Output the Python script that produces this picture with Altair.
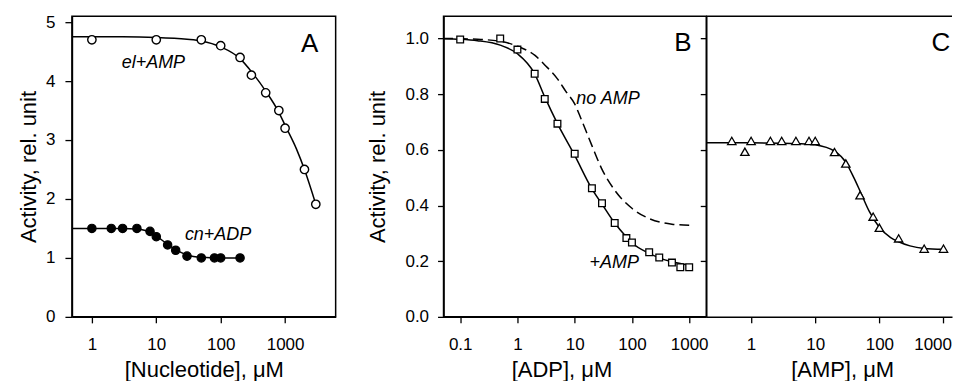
import altair as alt
import pandas as pd

FONT = "Liberation Sans"

# ---------------- Panel A data ----------------
a_el_x = [1, 10, 50, 100, 200, 300, 500, 800, 1000, 2000, 3000]
a_el_y = [4.70, 4.70, 4.70, 4.60, 4.40, 4.10, 3.80, 3.50, 3.20, 2.50, 1.91]
a_el_fit_x = [0.49, 1, 3, 10, 30, 50, 100, 200, 300, 500, 800, 1000, 1500, 2000, 3000]
a_el_fit_y = [4.75, 4.75, 4.75, 4.74, 4.71, 4.68, 4.58, 4.38, 4.16, 3.83, 3.47, 3.25, 2.85, 2.50, 1.91]

a_cn_x = [1, 2, 3, 5, 8, 10, 15, 20, 30, 50, 80, 100, 200]
a_cn_y = [1.50, 1.50, 1.50, 1.50, 1.45, 1.36, 1.22, 1.13, 1.03, 1.00, 1.00, 1.00, 1.00]
a_cn_fit_x = [0.49, 1, 3, 5, 7, 10, 15, 20, 30, 50, 100, 200]
a_cn_fit_y = [1.50, 1.50, 1.50, 1.49, 1.46, 1.37, 1.23, 1.14, 1.05, 1.01, 1.00, 1.00]

# ---------------- Panel B data ----------------
b_x = [0.1, 0.5, 1, 2, 3, 5, 10, 20, 30, 50, 80, 100, 200, 300, 500, 700, 1000]
b_y = [0.996, 1.0, 0.96, 0.873, 0.783, 0.694, 0.586, 0.462, 0.408, 0.337, 0.283,
       0.267, 0.232, 0.213, 0.195, 0.178, 0.178]
b_fit_x = [0.05, 0.1, 0.2, 0.5, 1, 2, 3, 5, 10, 20, 30, 50, 80, 100, 200, 300, 500, 1000]
b_fit_y = [0.999, 0.997, 0.992, 0.976, 0.945, 0.873, 0.79, 0.694, 0.58, 0.46, 0.405,
           0.337, 0.287, 0.266, 0.228, 0.212, 0.198, 0.186]
b_noamp_x = [0.05, 0.1, 0.2, 0.5, 1, 2, 3, 5, 7, 10, 13, 20, 30, 50, 100, 200, 500, 1000]
b_noamp_y = [1.0, 0.999, 0.997, 0.99, 0.972, 0.94, 0.905, 0.855, 0.81, 0.765, 0.71,
             0.615, 0.53, 0.455, 0.39, 0.353, 0.333, 0.329]

# ---------------- Panel C data ----------------
c_x = [0.5, 0.8, 1, 2, 3, 5, 8, 10, 20, 30, 50, 80, 100, 200, 500, 1000]
c_y = [0.632, 0.593, 0.632, 0.632, 0.632, 0.632, 0.632, 0.632, 0.592, 0.551,
       0.437, 0.360, 0.320, 0.282, 0.245, 0.245]
c_fit_x = [0.2, 1, 6, 10, 20, 30, 40, 50, 70, 100, 150, 200, 300, 500, 1000]
c_fit_y = [0.625, 0.625, 0.622, 0.618, 0.595, 0.555, 0.50, 0.452, 0.378, 0.322,
           0.285, 0.27, 0.255, 0.246, 0.243]

# ---------------- labels ----------------
a_lab_text = ["el+AMP", "cn+ADP"]
a_lab_x = [2.9, 27.8]
a_lab_y = [4.30, 1.39]
b_lab_text = ["no AMP", "+AMP"]
b_lab_x = [10.7, 18.1]
b_lab_y = [0.783, 0.195]
panel_text = ["A", "B", "C"]
panel_x = [2400, 773, 912]
panel_y = [4.62, 0.983, 0.983]

A_W, B_W, C_W, GAP, H = 264, 263, 246, 108, 301


def df(x, y):
    return pd.DataFrame({"x": x, "y": y})


# ================= Panel A =================
xA = alt.X("x:Q", scale=alt.Scale(type="log", domain=[0.49, 6100]),
           axis=alt.Axis(values=[1, 10, 100, 1000], labelExpr="datum.value + ''",
                         title="[Nucleotide], μM", labelPadding=14, titlePadding=6.5,
                         tickSize=6, labelFlush=False))
yA = alt.Y("y:Q", scale=alt.Scale(domain=[0, 5.1], nice=False),
           axis=alt.Axis(values=[0, 1, 2, 3, 4, 5], title="Activity, rel. unit",
                         labelPadding=10, titlePadding=5, tickSize=7))

a_el_line = alt.Chart(df(a_el_fit_x, a_el_fit_y)).mark_line(
    color="black", strokeWidth=1.5, interpolate="monotone").encode(x=xA, y=yA)
a_cn_line = alt.Chart(df(a_cn_fit_x, a_cn_fit_y)).mark_line(
    color="black", strokeWidth=1.5, interpolate="monotone").encode(x=xA, y=yA)
a_el_pts = alt.Chart(df(a_el_x, a_el_y)).mark_point(
    shape="circle", filled=True, fill="white", stroke="black", strokeWidth=1.4,
    size=70, opacity=1).encode(x=xA, y=yA)
a_cn_pts = alt.Chart(df(a_cn_x, a_cn_y)).mark_point(
    shape="circle", filled=True, fill="black", stroke="black", strokeWidth=1.2,
    size=70, opacity=1).encode(x=xA, y=yA)
a_labels = alt.Chart(pd.DataFrame({"x": a_lab_x, "y": a_lab_y, "t": a_lab_text})).mark_text(
    font=FONT, fontSize=18, fontStyle="italic", align="left", baseline="middle",
    color="black").encode(x=xA, y=yA, text="t:N")
a_panel = alt.Chart(pd.DataFrame({"x": panel_x[:1], "y": panel_y[:1], "t": panel_text[:1]})).mark_text(
    font=FONT, fontSize=26, align="center", baseline="middle", color="black").encode(
    x=xA, y=yA, text="t:N")

chartA = alt.layer(a_el_line, a_cn_line, a_el_pts, a_cn_pts, a_labels, a_panel).properties(
    width=A_W, height=H)

# ================= Spacer =================
spacer = alt.Chart(pd.DataFrame({"x": [0]})).mark_point(opacity=0).encode(
    x=alt.value(0), y=alt.value(0)).properties(
    width=GAP, height=H, view=alt.ViewBackground(strokeOpacity=0))

# ================= Panel B =================
xB = alt.X("x:Q", scale=alt.Scale(type="log", domain=[0.0512, 1987]),
           axis=alt.Axis(values=[0.1, 1, 10, 100, 1000], labelExpr="datum.value + ''",
                         title="[ADP], μM", labelPadding=14, titlePadding=6.5,
                         tickSize=6, labelFlush=False, titleX=118))
yB = alt.Y("y:Q", scale=alt.Scale(domain=[0, 1.08], nice=False),
           axis=alt.Axis(values=[0, 0.2, 0.4, 0.6, 0.8, 1.0], format=".1f",
                         title="Activity, rel. unit", labelPadding=9, titlePadding=15,
                         tickSize=6))

b_line = alt.Chart(df(b_fit_x, b_fit_y)).mark_line(
    color="black", strokeWidth=1.5, interpolate="monotone").encode(x=xB, y=yB)
b_dash = alt.Chart(df(b_noamp_x, b_noamp_y)).mark_line(
    color="black", strokeWidth=1.5, strokeDash=[10, 5], interpolate="monotone").encode(x=xB, y=yB)
b_pts = alt.Chart(df(b_x, b_y)).mark_point(
    shape="square", filled=True, fill="white", stroke="black", strokeWidth=1.3,
    size=45, opacity=1).encode(x=xB, y=yB)
b_labels = alt.Chart(pd.DataFrame({"x": b_lab_x, "y": b_lab_y, "t": b_lab_text})).mark_text(
    font=FONT, fontSize=18, fontStyle="italic", align="left", baseline="middle",
    color="black").encode(x=xB, y=yB, text="t:N")
b_panel = alt.Chart(pd.DataFrame({"x": panel_x[1:2], "y": panel_y[1:2], "t": panel_text[1:2]})).mark_text(
    font=FONT, fontSize=26, align="center", baseline="middle", color="black").encode(
    x=xB, y=yB, text="t:N")

chartB = alt.layer(b_dash, b_line, b_pts, b_labels, b_panel).properties(width=B_W, height=H)

# ================= Panel C =================
xC = alt.X("x:Q", scale=alt.Scale(type="log", domain=[0.2, 1358]),
           axis=alt.Axis(values=[1, 10, 100, 1000], labelExpr="datum.value + ''",
                         title="[AMP], μM", labelPadding=14, titlePadding=6.5,
                         tickSize=6, labelFlush=12, labelFlushOffset=8, titleX=136))
yC = alt.Y("y:Q", scale=alt.Scale(domain=[0, 1.08], nice=False),
           axis=alt.Axis(values=[0.2, 0.4, 0.6, 0.8, 1.0], labels=False, title=None,
                         tickSize=6))

c_line = alt.Chart(df(c_fit_x, c_fit_y)).mark_line(
    color="black", strokeWidth=1.5, interpolate="monotone").encode(x=xC, y=yC)
c_pts = alt.Chart(df(c_x, c_y)).mark_point(
    shape="triangle-up", filled=True, fill="white", stroke="black", strokeWidth=1.3,
    size=70, opacity=1).encode(x=xC, y=yC)
c_panel = alt.Chart(pd.DataFrame({"x": panel_x[2:], "y": panel_y[2:], "t": panel_text[2:]})).mark_text(
    font=FONT, fontSize=26, align="center", baseline="middle", color="black").encode(
    x=xC, y=yC, text="t:N")
# top frame line of panel C (spans the plot width; right edge left open)
c_top = alt.Chart(pd.DataFrame({"k": [0]})).mark_rule(color="black", strokeWidth=1.5).encode(
    y=alt.value(0))

chartC = alt.layer(c_line, c_pts, c_panel, c_top).properties(
    width=C_W, height=H, view=alt.ViewBackground(strokeOpacity=0))

chart = alt.hconcat(chartA, spacer, chartB, chartC, spacing=0, bounds="flush").properties(
    padding={"left": 8, "top": 4, "right": 0, "bottom": 0},
    background="white"
).configure_view(
    stroke="black", strokeWidth=1.5
).configure_axis(
    domainColor="black", domainWidth=1.5, tickColor="black", tickWidth=1.3,
    labelFont=FONT, labelFontSize=17, labelColor="black",
    titleFont=FONT, titleFontSize=22, titleFontWeight="normal", titleColor="black",
    grid=False
)

chart.save("out.html", embed_options={"renderer": "svg", "actions": False})
